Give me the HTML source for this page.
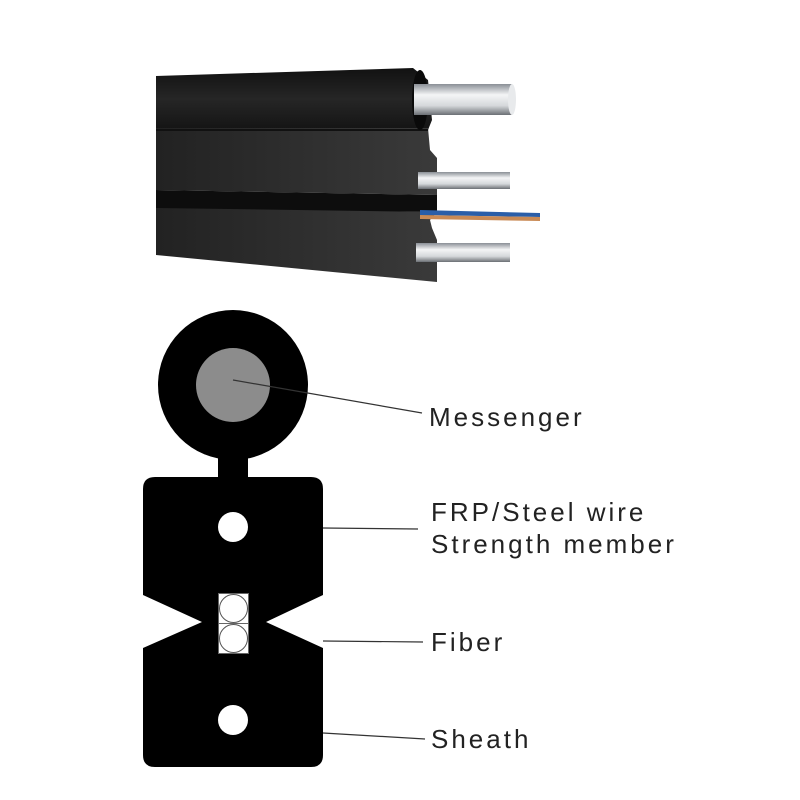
<!DOCTYPE html>
<html><head><meta charset="utf-8"><style>
html,body{margin:0;padding:0;background:#fff;}
svg{display:block}
text{font-family:"Liberation Sans",Arial,sans-serif;fill:#222;font-size:26px;letter-spacing:3px}
</style></head><body>
<svg width="800" height="800" viewBox="0 0 800 800" xmlns="http://www.w3.org/2000/svg">
<defs>
<linearGradient id="wire" x1="0" y1="0" x2="0" y2="1">
<stop offset="0" stop-color="#8a8f96"/><stop offset="0.35" stop-color="#f4f5f6"/><stop offset="0.7" stop-color="#d5d8db"/><stop offset="1" stop-color="#6b6f74"/>
</linearGradient>
<linearGradient id="slab" x1="0" y1="0" x2="1" y2="0">
<stop offset="0" stop-color="#222"/><stop offset="1" stop-color="#3a3a3a"/>
</linearGradient>
<linearGradient id="topg" x1="0" y1="0" x2="0" y2="1">
<stop offset="0" stop-color="#111"/><stop offset="0.5" stop-color="#262626"/><stop offset="1" stop-color="#141414"/>
</linearGradient>
</defs>
<polygon points="156,76 413,68 428,80 432,120 428,130 156,130" fill="url(#topg)"/>
<polygon points="156,128 428,128 430,150 437,158 437,195 156,190" fill="url(#slab)"/>
<polygon points="156,190 437,195 437,212 156,210" fill="#0d0d0d"/>
<polygon points="156,208 437,212 430,220 432,228 437,240 437,282 156,255" fill="url(#slab)"/>
<line x1="156" y1="130" x2="428" y2="130" stroke="#111" stroke-width="2"/>
<ellipse cx="420" cy="100" rx="8" ry="30" fill="#0a0a0a"/>
<rect x="414" y="84" width="98" height="31" fill="url(#wire)"/>
<ellipse cx="512" cy="99.5" rx="4" ry="15.5" fill="#e8eaec"/>
<rect x="418" y="172" width="92" height="17" fill="url(#wire)"/>
<polygon points="420,210 540,213 540,217 420,215" fill="#2a5ea8"/>
<polygon points="420,215 540,217 540,221 420,219" fill="#c98a55"/>
<rect x="416" y="243" width="94" height="19" fill="url(#wire)"/>
<circle cx="233" cy="385" r="75" fill="#000"/>
<circle cx="233" cy="385" r="37" fill="#8c8c8c"/>
<rect x="218" y="455" width="30" height="25" fill="#000"/>
<path d="M155,477 H311 Q323,477 323,489 V595 L266,622 L323,648 V755 Q323,767 311,767 H155 Q143,767 143,755 V648 L202,622 L143,595 V489 Q143,477 155,477 Z" fill="#000"/>
<circle cx="233" cy="527" r="15" fill="#fff"/>
<circle cx="233" cy="720" r="15" fill="#fff"/>
<rect x="218.5" y="593.5" width="30" height="60" fill="#fff" stroke="#666" stroke-width="1"/>
<line x1="218.5" y1="623.5" x2="248.5" y2="623.5" stroke="#666"/>
<circle cx="233.5" cy="608.5" r="14" fill="none" stroke="#555" stroke-width="1"/>
<circle cx="233.5" cy="638.5" r="14" fill="none" stroke="#555" stroke-width="1"/>
<g stroke="#333" stroke-width="1.2">
<line x1="233" y1="380" x2="422" y2="413"/>
<line x1="323" y1="528" x2="418" y2="529"/>
<line x1="323" y1="641" x2="423" y2="642"/>
<line x1="323" y1="733" x2="425" y2="739"/>
</g>
<text x="429" y="426">Messenger</text>
<text x="431" y="521">FRP/Steel wire</text>
<text x="431" y="553">Strength member</text>
<text x="431" y="651">Fiber</text>
<text x="431" y="748">Sheath</text>
</svg>
</body></html>
